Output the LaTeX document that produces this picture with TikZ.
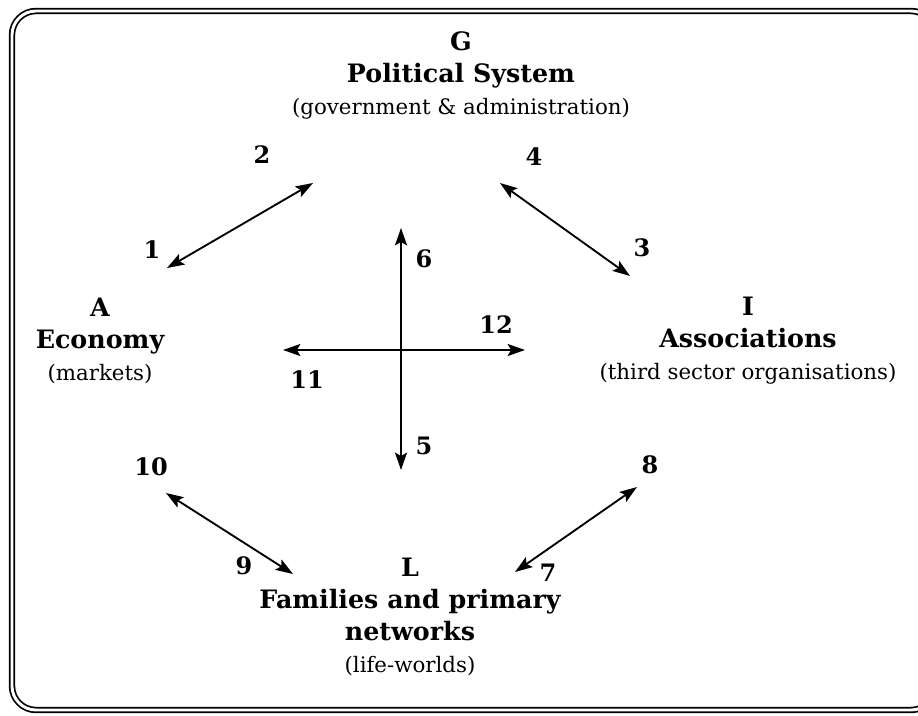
\documentclass[tikz,border=0pt]{standalone}
\usepackage{fontspec}
\setmainfont{DejaVu Serif}
\usetikzlibrary{arrows.meta}
\newcommand{\sysname}{\fontsize{19}{24}\selectfont\bfseries}

\begin{document}
\begin{tikzpicture}[x=0.75pt, y=-0.75pt, >={Stealth[length=13pt,width=9pt,inset=2.5pt]},
                    sys/.style={align=center, font=\fontsize{16}{24}\selectfont},
                    num/.style={font=\fontsize{18}{20}\selectfont\bfseries},
                    link/.style={<->, line width=1.4pt}]
  \useasboundingbox (0,0) rectangle (918,715);
  \draw[line width=1.3pt, double, double distance=2.2pt, rounded corners=18pt]
    (12,11) rectangle (935,710);

  % the four subsystems
  \node[sys] (G) at (461,75) {{\sysname G}\\{\sysname Political System}\\(government \& administration)};
  \node[sys] (A) at (100,341) {{\sysname A}\\{\sysname Economy}\\(markets)};
  \node[sys] (I) at (748,341) {{\sysname I}\\{\sysname Associations}\\(third sector organisations)};
  \node[sys] (L) at (410,617) {{\sysname L}\\{\sysname Families and primary}\\{\sysname networks}\\(life-worlds)};

  % arrow ends
  \coordinate (ag1) at (167,268);  \coordinate (ag2) at (313,183);
  \coordinate (gi1) at (500,183);  \coordinate (gi2) at (630,276);
  \coordinate (il1) at (637,487);  \coordinate (il2) at (515,572);
  \coordinate (la1) at (293,574);  \coordinate (la2) at (166,493);
  \coordinate (v1) at (401,470);   \coordinate (v2) at (401,228);
  \coordinate (h1) at (283,350);   \coordinate (h2) at (525,350);

  \draw[link] (ag1) -- (ag2);
  \draw[link] (gi1) -- (gi2);
  \draw[link] (il1) -- (il2);
  \draw[link] (la1) -- (la2);
  \draw[link] (v1) -- (v2);
  \draw[link] (h1) -- (h2);

  % flow numbers
  \node[num] (n1) at (152,250) {1};
  \node[num] (n2) at (262,155) {2};
  \node[num] (n3) at (642,248) {3};
  \node[num] (n4) at (534,157) {4};
  \node[num] (n5) at (424,446) {5};
  \node[num] (n6) at (424,259) {6};
  \node[num] (n7) at (548,573) {7};
  \node[num] (n8) at (650,465) {8};
  \node[num] (n9) at (244,566) {9};
  \node[num] (n10) at (151,467) {10};
  \node[num] (n11) at (307,380) {11};
  \node[num] (n12) at (496,325) {12};
\end{tikzpicture}
\end{document}
